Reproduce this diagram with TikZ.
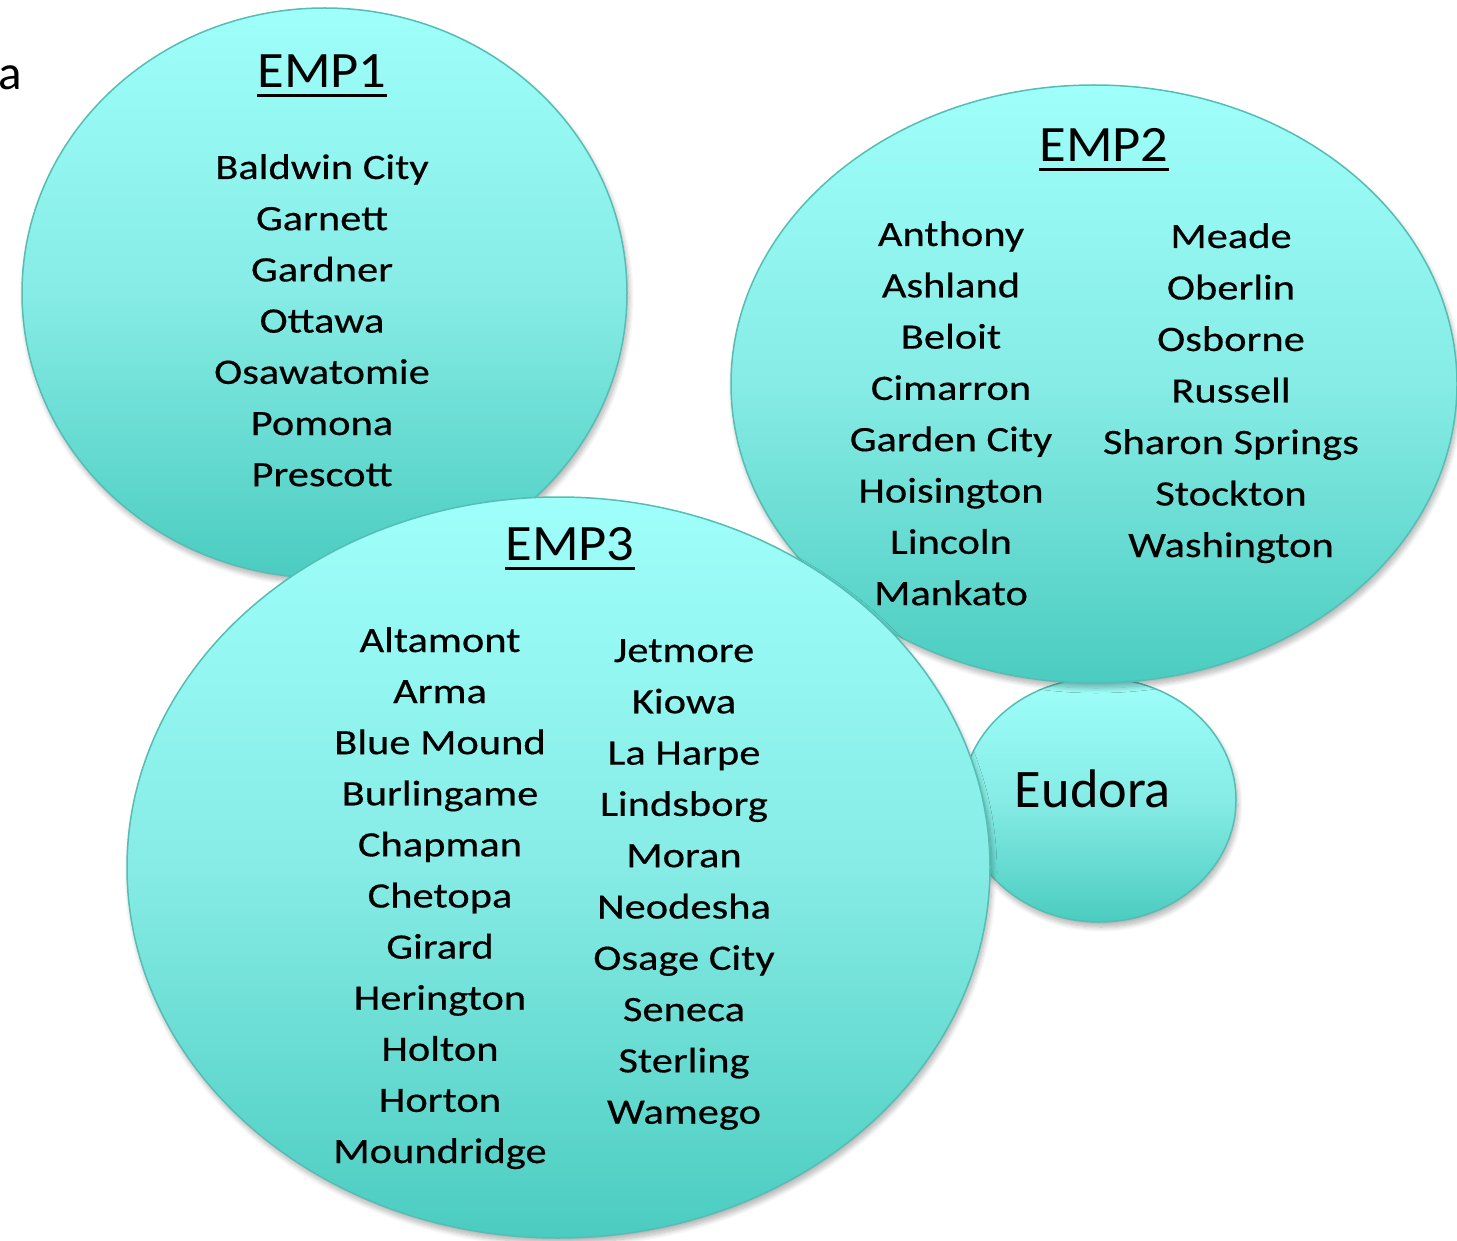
\documentclass[tikz,border=0pt]{standalone}
\usepackage{fontspec}
\setmainfont{Carlito}
\newfontfamily\cityfont[FakeStretch=1.19,FakeBold=0.4]{Carlito}
\newfontfamily\titlefont[FakeStretch=1.07]{Carlito}
\usetikzlibrary{shapes.geometric,shadows.blur}
\definecolor{ctop}{HTML}{9FFFFA}
\definecolor{cmid}{HTML}{86ECE5}
\definecolor{cbot}{HTML}{4BCCC0}
\definecolor{cedge}{HTML}{55BDB3}
\tikzset{
  bubble/.style={ellipse, draw=cedge, line width=1.5pt, inner sep=0pt, outer sep=0pt,
    top color=ctop, bottom color=cbot, middle color=cmid,
    blur shadow={shadow xshift=2pt, shadow yshift=-5pt, shadow blur radius=5pt, shadow blur steps=10, shadow opacity=30}},
  city/.style={inner sep=0pt, anchor=base, font=\cityfont\fontsize{35.7pt}{43pt}\selectfont},
  title/.style={inner sep=0pt, anchor=base, font=\titlefont\fontsize{51pt}{60pt}\selectfont},
  uline/.style={line width=3pt, black},
}
\begin{document}
\begin{tikzpicture}[x=1pt,y=-1pt]
\useasboundingbox (0,0) rectangle (1457,1241);
% bubbles
\node[bubble, minimum width=605pt, minimum height=570pt] (emp1) at (324.5,293) {};
\node[bubble, minimum width=274pt, minimum height=244pt] (eud) at (1099,800) {};
\node[bubble, minimum width=726pt, minimum height=598pt] (emp2) at (1094,384) {};
\node[bubble, minimum width=863pt, minimum height=741pt] (emp3) at (558.5,867.5) {};
% label a
\node[inner sep=0pt, anchor=base west, font=\fontsize{49pt}{55pt}\selectfont] (lbl) at (-2,90) {a};
% titles
\node[title] (t1) at (322,88) {EMP1};
\node[title] (t2) at (1104,162) {EMP2};
\node[title] (t3) at (570,560) {EMP3};
\draw[uline] ([yshift=-8pt]t1.base west) -- ([yshift=-8pt]t1.base east);
\draw[uline] ([yshift=-8pt]t2.base west) -- ([yshift=-8pt]t2.base east);
\draw[uline] ([yshift=-8pt]t3.base west) -- ([yshift=-8pt]t3.base east);
% EMP1 cities
\foreach \t [count=\i from 0] in {Baldwin City,Garnett,Gardner,Ottawa,Osawatomie,Pomona,Prescott}
  \node[city] (ea\i) at (322,{179+51.2*\i}) {\t};
% EMP2 cities
\foreach \t [count=\i from 0] in {Anthony,Ashland,Beloit,Cimarron,Garden City,Hoisington,Lincoln,Mankato}
  \node[city] (eb\i) at (951,{246+51.3*\i}) {\t};
\foreach \t [count=\i from 0] in {Meade,Oberlin,Osborne,Russell,Sharon Springs,Stockton,Washington}
  \node[city] (ec\i) at (1231,{248+51.5*\i}) {\t};
% EMP3 cities
\foreach \t [count=\i from 0] in {Altamont,Arma,Blue Mound,Burlingame,Chapman,Chetopa,Girard,Herington,Holton,Horton,Moundridge}
  \node[city] (ed\i) at (440,{652+51.1*\i}) {\t};
\foreach \t [count=\i from 0] in {Jetmore,Kiowa,La Harpe,Lindsborg,Moran,Neodesha,Osage City,Seneca,Sterling,Wamego}
  \node[city] (ee\i) at (684,{662+51.3*\i}) {\t};
% Eudora
\node[inner sep=0pt, anchor=base, font=\fontsize{54.3pt}{60pt}\selectfont] (eudt) at (1093,807) {Eudora};
\end{tikzpicture}
\end{document}
